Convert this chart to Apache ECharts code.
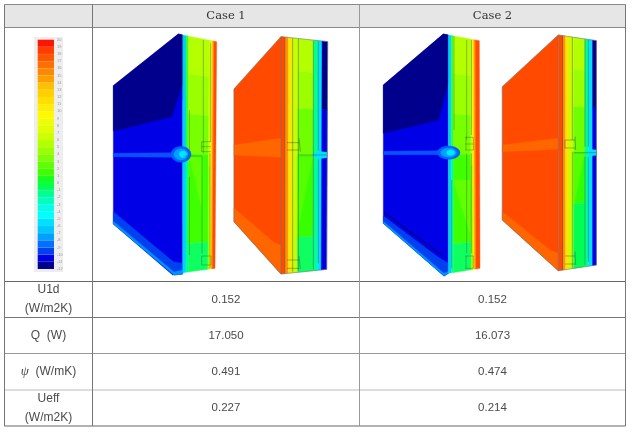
<!DOCTYPE html>
<html>
<head>
<meta charset="utf-8">
<style>
html,body{margin:0;padding:0;background:#fff;}
#chart{width:635px;height:434px;filter:blur(0.35px);}
</style>
<script src="https://cdn.jsdelivr.net/npm/echarts@6/dist/echarts.min.js"></script>
</head>
<body>
<div id="chart"></div>
<script>
// table content
const caseNames = ['Case 1', 'Case 2'];
const rowLabels = [['U1d', '(W/m2K)'], ['Q  (W)'], ['{psi|ψ}  (W/mK)'], ['Ueff', '(W/m2K)']];
const case1Values = ['0.152', '17.050', '0.491', '0.227'];
const case2Values = ['0.152', '16.073', '0.474', '0.214'];

// temperature scale next to the renders
const scaleMin = -12;
const scaleMax = 20;
const scaleColors = [
  '#ff1400', '#ff3c00', '#ff5500', '#ff6e00', '#ff8800', '#ff9e00', '#ffc000', '#ffd000',
  '#ffde00', '#ffee00', '#fffa00', '#f0ff00', '#e0ff00', '#ccff00', '#b4ff00', '#9cff00',
  '#80ff00', '#60ff00', '#40ff00', '#14ff20', '#00ff50', '#00ff90', '#00ffc0', '#00ffe8',
  '#00ffff', '#00e0ff', '#00c8ff', '#00a0ff', '#0070ff', '#0040f0', '#0000e0', '#00008c'
];

// table layout
const colEdges = [4.5, 92.5, 359.5, 625.5];
const rowEdges = [4.5, 27.5, 281.5, 317.5, 353.5, 390, 426];
const rowLineColors = ['#8a8a8a', '#8a8a8a', '#666', '#777', '#999', '#bbb', '#666'];

// the renders are drawn as flat shaded polygons, one list of shapes in picture pixels
const shapes = [];
function poly(color, pts, stroke, sw) {
  shapes.push({ t: 'poly', color, pts, stroke: stroke || color, sw: sw || 0.4 });
}
function line(color, width, pts) {
  shapes.push({ t: 'line', color, width, pts });
}
function text(str, x, y, font, size, color) {
  shapes.push({ t: 'text', str, x, y, font, size, color });
}

// zoomed crop coords -> picture coords
function mapper(ox, oy) {
  return (p) => [ox + p[0] / 3, oy + p[1] / 3];
}
function lerp(a, b, k) {
  return [a[0] + (b[0] - a[0]) * k, a[1] + (b[1] - a[1]) * k];
}
function sideCell(side, m, u0, u1, t0, t1, color) {
  const at = (u, t) => m(lerp(lerp(side.tl, side.tr, u), lerp(side.bl, side.br, u), t));
  poly(color, [at(u0, t0), at(u1, t0), at(u1, t1), at(u0, t1)]);
}
function blob(cx, cy, rx, ry) {
  const pts = [];
  for (let i = 0; i < 20; i++) {
    const a = i / 20 * Math.PI * 2;
    pts.push([cx + Math.cos(a) * rx, cy + Math.sin(a) * ry]);
  }
  return pts;
}

function coldPanel(ox, oy, face, side, o) {
  const m = mapper(ox, oy);
  const P = (arr) => arr.map(m);
  poly('#0000e6', P(face.base));
  poly('#00008c', P(face.dark));
  poly('#0040f0', P(face.low1));
  poly('#0090ff', P(face.low2));
  if (face.stripe) line('#00008c', 1.4, P(face.stripe));
  poly('#0a50ff', P(face.band));

  const c = o.cols;
  sideCell(side, m, 0, c[0], 0, 1, '#00d0ff');
  sideCell(side, m, c[0], c[1], 0, 0.5, '#30ff30');
  sideCell(side, m, c[0], c[1], 0.5, 1, '#00ff90');
  const rows = [[0, 0.16, '#b4ff00'], [0.16, 0.33, '#9cff00'], [0.33, 0.5, '#78ff00'], [0.5, 0.88, '#40ff00'], [0.88, 1, '#10ff60']];
  rows.forEach((r) => sideCell(side, m, c[1], c[2], r[0], r[1], r[2]));
  sideCell(side, m, c[2], c[3], 0, 0.55, '#c0ff00');
  sideCell(side, m, c[2], c[3], 0.55, 1, '#90ff00');
  sideCell(side, m, c[3], c[4], 0, 1, '#ffee00');
  sideCell(side, m, c[4], c[5], 0, 1, '#ffa000');
  sideCell(side, m, c[5], 1, 0, 1, '#ff4c00');
  poly('#62ff00', P(o.wedge));
  // warm spot where the slab meets the wall
  const g = o.glow;
  poly('#0060ff', P(blob(g[0], g[1], g[2], g[3])));
  poly('#00a0ff', P(blob(g[0], g[1], g[2] * 0.7, g[3] * 0.7)));
  poly('#00e8ff', P(blob(g[0] + 6, g[1], g[2] * 0.36, g[3] * 0.42)));
  o.lines.forEach((l) => line('rgba(50,80,50,0.75)', 0.5, P(l)));
}

function warmPanel(ox, oy, face, side, o) {
  const m = mapper(ox, oy);
  const P = (arr) => arr.map(m);
  poly('#ff4a00', P(face.base));
  poly('#ff6600', P(face.band));
  poly('#ff6600', P(face.low));

  const c = o.cols;
  sideCell(side, m, 0, c[0], 0, 1, '#ff4a00');
  sideCell(side, m, c[0], c[1], 0, 1, '#ff9400');
  sideCell(side, m, c[1], c[2], 0, 1, '#ffe400');
  sideCell(side, m, c[2], c[3], 0, 1, '#c8ff00');
  o.rows.forEach((r) => sideCell(side, m, c[3], c[4], r[0], r[1], r[2]));
  sideCell(side, m, c[4], c[5], 0, 1, '#00ff90');
  sideCell(side, m, c[5], c[6], 0, 1, '#00e0ff');
  sideCell(side, m, c[6], 1, 0, 0.3, '#00008c');
  sideCell(side, m, c[6], 1, 0.3, 1, '#0000e0');
  poly('#56ff00', P(o.wedge));
  poly('#00e0ff', P(o.glow));
  o.lines.forEach((l) => line('rgba(70,85,70,0.8)', 0.6, P(l)));
  line('#777', 0.6, P(face.base.concat([face.base[0]])));
  line('#777', 0.6, P([side.tl, side.tr, side.br, side.bl]));
}

coldPanel(100, 20, {
  base: [[235, 42], [248, 45], [248, 762], [218, 765], [40, 612], [40, 197]],
  dark: [[40, 197], [235, 42], [248, 45], [248, 190], [215, 290], [40, 333]],
  low1: [[40, 575], [220, 725], [248, 730], [248, 762], [222, 765], [40, 612]],
  low2: [[40, 604], [222, 756], [248, 750], [248, 762], [222, 765], [40, 612]],
  band: [[40, 400], [220, 398], [220, 412], [40, 410]]
}, { tl: [248, 45], tr: [350, 65], bl: [248, 758], br: [345, 745] }, {
  cols: [0.1, 0.17, 0.78, 0.84, 0.88, 0.92],
  wedge: [[268, 412], [305, 412], [305, 560]],
  glow: [243, 403, 30, 24],
  lines: [
    [[268, 270], [268, 390]], [[268, 470], [268, 705]], [[310, 60], [310, 400]], [[306, 410], [306, 700]],
    [[332, 70], [332, 365]], [[330, 400], [330, 745]], [[250, 408], [306, 408]],
    [[305, 365], [333, 365]], [[305, 380], [333, 380]], [[305, 395], [333, 395]], [[305, 365], [305, 395]],
    [[305, 708], [333, 708]], [[305, 735], [333, 735]], [[305, 708], [305, 735]], [[333, 708], [333, 735]],
    [[248, 45], [248, 240]]
  ]
});

warmPanel(225, 20, {
  base: [[168, 50], [168, 762], [27, 605], [27, 207]],
  band: [[27, 375], [168, 355], [168, 412], [27, 405]],
  low: [[27, 565], [150, 670], [168, 675], [168, 762], [27, 605]]
}, { tl: [168, 50], tr: [308, 65], bl: [168, 762], br: [305, 748] }, {
  cols: [0.09, 0.16, 0.24, 0.36, 0.7, 0.8, 0.88],
  rows: [[0, 0.14, '#b4ff00'], [0.14, 0.3, '#9cff00'], [0.3, 0.5, '#70ff00'], [0.5, 0.85, '#38ff00'], [0.85, 1, '#10ff60']],
  wedge: [[222, 412], [263, 412], [222, 610]],
  glow: [[262, 405], [280, 394], [306, 397], [306, 413], [280, 416]],
  lines: [
    [[180, 52], [180, 760]], [[203, 55], [203, 755]], [[220, 57], [220, 752]], [[265, 62], [265, 748]], [[280, 64], [280, 392]],
    [[280, 418], [280, 730]], [[220, 405], [306, 405]],
    [[186, 368], [222, 368]], [[186, 390], [222, 390]], [[222, 355], [226, 395]],
    [[186, 720], [222, 720]], [[186, 745], [222, 745]], [[222, 708], [226, 748]]
  ]
});

coldPanel(370, 20, {
  base: [[220, 42], [235, 45], [235, 760], [222, 768], [40, 610], [40, 195]],
  dark: [[40, 195], [220, 42], [235, 45], [235, 190], [205, 300], [40, 340]],
  low1: [[40, 588], [205, 712], [235, 730], [235, 760], [222, 768], [40, 610]],
  low2: [[40, 604], [222, 760], [235, 754], [235, 760], [222, 768], [40, 610]],
  stripe: [[42, 578], [215, 705]],
  band: [[40, 394], [205, 392], [205, 404], [40, 404]]
}, { tl: [235, 45], tr: [328, 62], bl: [235, 760], br: [330, 745] }, {
  cols: [0.1, 0.17, 0.72, 0.78, 0.82, 0.87],
  wedge: [[250, 480], [300, 480], [300, 640]],
  glow: [236, 398, 34, 20],
  lines: [
    [[252, 48], [252, 330]], [[245, 480], [245, 745]], [[290, 60], [290, 360]], [[290, 400], [290, 700]],
    [[304, 60], [304, 345]], [[304, 400], [304, 700]],
    [[285, 352], [310, 352]], [[285, 372], [310, 372]], [[285, 390], [310, 390]], [[288, 352], [288, 390]], [[310, 352], [310, 390]],
    [[285, 708], [310, 708]], [[285, 745], [310, 745]], [[288, 708], [288, 745]], [[310, 708], [310, 745]]
  ]
});

warmPanel(495, 20, {
  base: [[190, 45], [190, 752], [22, 600], [22, 200]],
  band: [[22, 375], [190, 355], [190, 388], [22, 395]],
  low: [[22, 575], [165, 690], [190, 700], [190, 752], [22, 600]]
}, { tl: [190, 45], tr: [304, 62], bl: [190, 752], br: [304, 735] }, {
  cols: [0.13, 0.19, 0.28, 0.4, 0.7, 0.79, 0.9],
  rows: [[0, 0.14, '#b4ff00'], [0.14, 0.3, '#9cff00'], [0.3, 0.5, '#70ff00'], [0.5, 0.72, '#30ff00'], [0.72, 1, '#00ff50']],
  wedge: [[236, 402], [268, 402], [236, 560]],
  glow: [[275, 398], [285, 388], [304, 390], [304, 406], [285, 408]],
  lines: [
    [[203, 47], [203, 750]], [[232, 52], [232, 360]], [[232, 395], [232, 745]], [[270, 58], [270, 380]], [[270, 410], [270, 735]],
    [[280, 60], [280, 380]], [[280, 410], [280, 725]], [[236, 398], [304, 398]],
    [[210, 360], [240, 360]], [[210, 384], [240, 384]], [[240, 350], [242, 390]], [[210, 360], [210, 384]],
    [[210, 708], [240, 708]], [[210, 732], [240, 732]], [[240, 695], [242, 735]]
  ]
});

// table lines go on top of the renders, then the texts
poly('#e6e6e6', [[colEdges[0], rowEdges[0]], [colEdges[3], rowEdges[0]], [colEdges[3], rowEdges[1]], [colEdges[0], rowEdges[1]]]);
rowEdges.forEach((y, i) => line(rowLineColors[i], 1, [[colEdges[0], y], [colEdges[3], y]]));
colEdges.forEach((x, i) => line(i == 2 ? '#999' : '#777', 1, [[x, rowEdges[0]], [x, rowEdges[6]]]));

const bodyFont = '"Liberation Sans", sans-serif';
caseNames.forEach((name, i) => {
  text(name, (colEdges[i + 1] + colEdges[i + 2]) / 2, 16, '"DejaVu Serif", serif', 11.5, '#333');
});
const labelCenter = (colEdges[0] + colEdges[1]) / 2;
rowLabels.forEach((lines, i) => {
  const mid = (rowEdges[i + 2] + rowEdges[i + 3]) / 2;
  lines.forEach((str, k) => {
    const y = lines.length == 1 ? mid : mid + (k == 0 ? -9.5 : 9.5);
    text(str, labelCenter, y, bodyFont, 12, '#4a4a4a');
  });
  text(case1Values[i], (colEdges[1] + colEdges[2]) / 2, mid, bodyFont, 11.5, '#4a4a4a');
  text(case2Values[i], (colEdges[2] + colEdges[3]) / 2, mid, bodyFont, 11.5, '#4a4a4a');
});

function drawShape(params, api) {
  const s = shapes[api.value(0)];
  const pts = (s.pts || []).map((p) => api.coord(p));
  if (s.t == 'poly') {
    return { type: 'polygon', shape: { points: pts }, style: { fill: s.color, stroke: s.stroke, lineWidth: s.sw } };
  }
  if (s.t == 'line') {
    return { type: 'polyline', shape: { points: pts }, style: { fill: null, stroke: s.color, lineWidth: s.width } };
  }
  const c = api.coord([s.x, s.y]);
  return {
    type: 'text', x: c[0], y: c[1],
    style: {
      text: s.str, fill: s.color, align: 'center', verticalAlign: 'middle',
      font: s.size + 'px ' + s.font,
      rich: { psi: { font: 'italic 13px "Liberation Serif", serif', fill: s.color } }
    }
  };
}

function drawBand(params, api) {
  const a = api.coord([0, api.value(0)]);
  const b = api.coord([1, api.value(1)]);
  return {
    type: 'rect',
    shape: { x: a[0], y: a[1], width: b[0] - a[0], height: b[1] - a[1] },
    style: { fill: scaleColors[params.dataIndex], stroke: 'rgba(255,255,255,0.12)', lineWidth: 0.5 }
  };
}

const myChart = echarts.init(document.getElementById('chart'), null, { renderer: 'canvas' });
myChart.setOption({
  animation: false,
  backgroundColor: '#fff',
  grid: [
    { left: 0, top: 0, width: 635, height: 434 },
    { left: 37.7, top: 39.7, width: 16.3, height: 229.3 }
  ],
  xAxis: [
    { type: 'value', min: 0, max: 635, show: false, gridIndex: 0 },
    { type: 'value', min: 0, max: 1, show: false, gridIndex: 1 }
  ],
  yAxis: [
    { type: 'value', min: 0, max: 434, inverse: true, show: false, gridIndex: 0 },
    {
      type: 'value', min: scaleMin, max: scaleMax, interval: 1, gridIndex: 1, position: 'right',
      axisLine: { show: false }, axisTick: { show: false }, splitLine: { show: false },
      axisLabel: { fontSize: 4, color: '#999', margin: 3, showMinLabel: true, showMaxLabel: true, hideOverlap: false, fontFamily: 'Liberation Sans' }
    }
  ],
  graphic: [{ type: 'rect', z: -1, shape: { x: 34, y: 37, width: 29, height: 235 }, style: { fill: '#eeeeee' } }],
  series: [
    {
      type: 'custom', xAxisIndex: 0, yAxisIndex: 0, clip: false, silent: true,
      data: shapes.map((s, i) => [i, 0]),
      encode: { x: 0, y: 1 },
      renderItem: drawShape
    },
    {
      type: 'custom', xAxisIndex: 1, yAxisIndex: 1, silent: true, clip: false,
      data: scaleColors.map((c, i) => [scaleMax - i, scaleMax - i - 1]),
      encode: { y: [0, 1] },
      renderItem: drawBand
    }
  ]
});
</script>
</body>
</html>
